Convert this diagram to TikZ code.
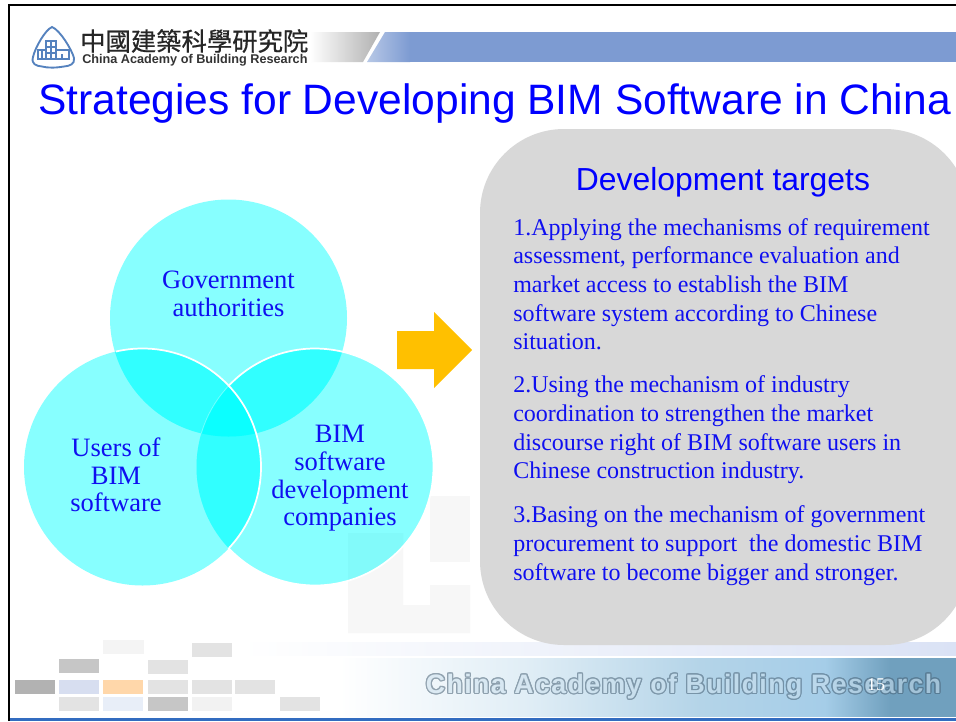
\documentclass[tikz,border=0pt]{standalone}
\usepackage{fontspec}
\usepackage[copies]{contour}
\setmainfont{Liberation Serif}
\setsansfont{Liberation Sans}
\newfontfamily\cjkfont[FakeBold=0.6]{Noto Sans CJK TC}
\contournumber{16}
\contourlength{0.9pt}
\definecolor{tblue}{RGB}{0,0,255}
\definecolor{capc}{RGB}{15,15,240}
\definecolor{cyanlt}{RGB}{0,255,255}
\definecolor{barblue}{RGB}{125,155,210}
\definecolor{footblue}{RGB}{50,108,192}
\definecolor{logoblue}{RGB}{85,130,190}
\definecolor{panelgray}{RGB}{216,216,216}
\definecolor{arrowgold}{RGB}{255,192,0}
\definecolor{wmark}{RGB}{247,247,247}
\definecolor{ftA}{RGB}{255,255,255}
\definecolor{ftB}{RGB}{225,238,246}
\definecolor{ftC}{RGB}{180,212,232}
\definecolor{ftD}{RGB}{165,205,232}
\definecolor{ftE}{RGB}{112,160,190}
\definecolor{outl}{RGB}{70,95,115}
\definecolor{footfill}{RGB}{205,225,238}
\definecolor{bandblue}{RGB}{218,226,245}
\definecolor{tileblueA}{RGB}{215,222,240}
\definecolor{tileblueB}{RGB}{232,238,248}
\definecolor{tileorange}{RGB}{255,215,170}
\pgfdeclarehorizontalshading{footshade}{100bp}{
  color(0bp)=(ftA); color(28bp)=(ftA); color(42bp)=(ftB); color(55.5bp)=(ftC); color(65bp)=(ftD); color(70bp)=(ftE); color(100bp)=(ftE)}
\tikzset{
  venn/.style={fill=cyanlt,fill opacity=0.47,draw=none},
  vennover/.style={fill=cyanlt,fill opacity=0.3,draw=none},
  vennline/.style={draw=white,line width=1.3pt},
  vlabel/.style={text=capc,font=\fontsize{19.9pt}{20.8pt}\selectfont,align=center,inner sep=0pt},
  body/.style={text=capc,font=\fontsize{18pt}{21.5pt}\selectfont,align=left,anchor=north west,inner sep=0pt},
  logoline/.style={draw=logoblue,line width=0.9pt}
}
\begin{document}
\begin{tikzpicture}[x=0.75pt,y=-0.75pt]
\useasboundingbox (0,0) rectangle (956,721);
\fill[white] (0,0) rectangle (956,721);
% watermark
\fill[wmark] (348,533) -- (403,533) -- (403,605) -- (430,605) -- (430,585) -- (470,585) -- (470,633) -- (348,633) -- cycle;
\fill[wmark] (430,496) -- (470,496) -- (470,562) -- (430,562) -- cycle;
% header bars
\shade[left color=white,right color=gray!62] (310,32) -- (380,32) -- (363,62) -- (310,62) -- cycle;
\fill[barblue] (410,32) rectangle (956,62);
\shade[left color=barblue!55,right color=barblue] (385,32) -- (410,32) -- (410,62) -- (367,62) -- cycle;
% footer bands
\shade[left color=white,right color=bandblue] (240,642) rectangle (956,655);
\shade[shading=footshade] (300,658) rectangle (956,716);
\fill[footblue] (10,718) rectangle (956,721);
% tiles
\foreach \x/\y/\w/\c in {103/640/41/gray!9,192/643/40/gray!22,59/659/40/gray!45,148/660/40/gray!22,15/680/40/gray!60,59/680/40/tileblueA,103/680/40/tileorange,148/680/40/gray!22,192/680/40/gray!22,235/680/40/gray!22,59/697/40/gray!22,103/697/40/tileblueB,148/697/40/gray!45,192/697/40/gray!10,280/697/40/gray!22}
  \fill[\c] (\x,\y) rectangle ++(\w,14);
% frame
\draw[black,line width=2.2pt] (9,721) -- (9,5) -- (956,5);
% logo
\draw[logoblue,line width=1.4pt,fill=white] (52,27) .. controls (60,30) and (72,50) .. (74,58) .. controls (75,64) and (70,66) .. (64,66.5) .. controls (55,68) and (48,68) .. (42,66.5) .. controls (36,66) and (31,64) .. (33,57) .. controls (35,48) and (45,30) .. (52,27) -- cycle;
\draw[logoline] (46,41) rectangle (51,59) (51,41) rectangle (56,59) (46,47) -- (56,47) (46,53) -- (56,53);
\draw[logoline] (38,50) rectangle (46,59) (56,50) rectangle (69,59) (42,50) -- (42,59) (62,54) -- (62,59);
\node[anchor=west,inner sep=0pt,text=black!85,font=\cjkfont\fontsize{19pt}{19pt}\selectfont] (cjk) at (80,41) {中國建築科學研究院};
\node[anchor=west,inner sep=0pt,text=black!80,font=\sffamily\bfseries\fontsize{9.5pt}{9.5pt}\selectfont] (eng) at (82,60.5) {China Academy of Building Research};
% title
\node[anchor=west,inner sep=0pt,text=tblue,font=\sffamily\fontsize{31.9pt}{31.9pt}\selectfont] (title) at (38,104) {Strategies for Developing BIM Software in China};
% panel
\fill[panelgray,rounded corners=63pt] (480,129) rectangle (969,645);
\node[text=tblue,font=\sffamily\fontsize{23.9pt}{23.9pt}\selectfont,inner sep=0pt] (panelhead) at (723,182) {Development targets};
\node[body] (p1) at (513,218) {1.Applying the mechanisms of requirement\\assessment, performance evaluation and\\market access to establish the BIM\\software system according to Chinese\\situation.};
\node[body] (p2) at (513,375.5) {2.Using the mechanism of industry\\coordination to strengthen the market\\discourse right of BIM software users in\\Chinese construction industry.};
\node[body] (p3) at (513,505.5) {3.Basing on the mechanism of government\\procurement to support\ \ the domestic BIM\\software to become bigger and stronger.};
% arrow
\fill[arrowgold] (397,331) -- (434,331) -- (434,312) -- (472,350) -- (434,388) -- (434,369) -- (397,369) -- cycle;
% venn
\fill[venn] (228.5,318) circle (118.5);
\fill[venn] (142.5,467) circle (118.5);
\fill[venn] (315,467) circle (118.5);
\begin{scope}
 \clip (228.5,318) circle (118.5);
 \fill[vennover] (142.5,467) circle (118.5);
 \fill[vennover] (315,467) circle (118.5);
 \draw[white,line width=0.6pt,opacity=0.45] (315,467) ++(-137:118.5) arc[start angle=-137,end angle=-170,radius=118.5];
\end{scope}
\begin{scope}
 \clip (142.5,467) circle (118.5);
 \fill[vennover] (315,467) circle (118.5);
\end{scope}
\draw[vennline] (142.5,467) ++(-103:118.5) arc[start angle=-103,end angle=43,radius=118.5];
\draw[vennline] (315,467) ++(-137:118.5) arc[start angle=-137,end angle=137,radius=118.5];
\node[vlabel] (gov) at (228.5,293.5) {Government\\authorities};
\node[vlabel] (users) at (116,475) {Users of\\BIM\\software};
\node[vlabel] (bim) at (340,478.5) {BIM\\software\\development\\companies};
% footer
\begin{scope}[transparency group,opacity=0.55]
\node[text=footfill,font=\sffamily\bfseries\addfontfeature{LetterSpace=5.3}\fontsize{20pt}{20pt}\selectfont,inner sep=0pt] (foot) at (683.5,687) {\contour{outl}{China Academy of Building Research}};
\end{scope}
\node[text=white,font=\fontsize{13.5pt}{13.5pt}\selectfont,inner sep=0pt] (num) at (876,685) {15};
\end{tikzpicture}
\end{document}
